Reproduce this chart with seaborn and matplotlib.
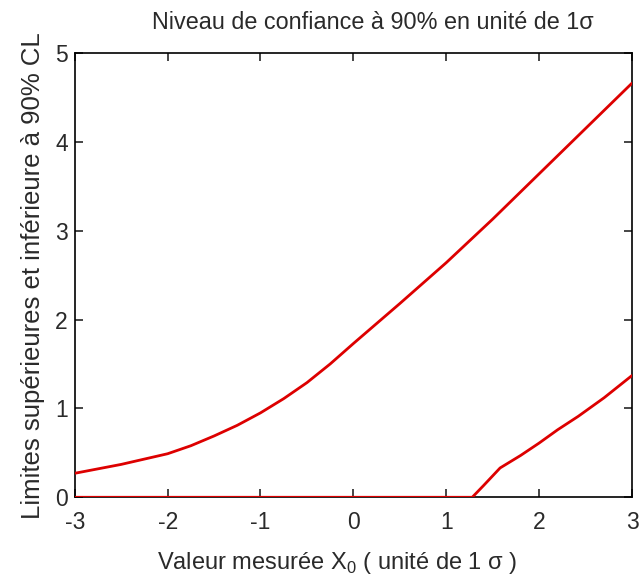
import matplotlib
matplotlib.use("Agg")
import matplotlib.pyplot as plt
import seaborn as sns
import pandas as pd

# Feldman-Cousins 90% CL belt for a Gaussian measurement (units of sigma)
x_upper = [-3.0, -2.75, -2.5, -2.25, -2.0, -1.75, -1.5, -1.25, -1.0, -0.75,
           -0.5, -0.25, 0.0, 0.5, 1.0, 1.5, 2.0, 2.5, 3.0]
upper = [0.27, 0.32, 0.37, 0.43, 0.49, 0.58, 0.69, 0.81, 0.95, 1.11,
         1.29, 1.50, 1.73, 2.18, 2.64, 3.13, 3.64, 4.15, 4.66]

x_lower = [-3.0, 1.28, 1.4, 1.58, 1.8, 2.0, 2.2, 2.42, 2.7, 3.0]
lower = [0.0, 0.0, 0.13, 0.33, 0.47, 0.61, 0.76, 0.91, 1.12, 1.37]

x_ticks = [-3, -2, -1, 0, 1, 2, 3]
y_ticks = [0, 1, 2, 3, 4, 5]

df_up = pd.DataFrame({"x": x_upper, "mu": upper})
df_lo = pd.DataFrame({"x": x_lower, "mu": lower})

sns.set_theme(style="ticks")
plt.rcParams["font.family"] = ["Liberation Sans", "DejaVu Sans"]

fig = plt.figure(figsize=(6.39, 5.86), dpi=100)
ax = fig.add_axes([0.117, 0.1514, 0.872, 0.7582])

red = "#dd0000"
sns.lineplot(data=df_lo, x="x", y="mu", ax=ax, color=red, linewidth=2.0,
             sort=True, zorder=3)
sns.lineplot(data=df_up, x="x", y="mu", ax=ax, color=red, linewidth=2.0,
             sort=True, zorder=3)

ax.set_xlim(-3, 3)
ax.set_ylim(0, 5)
ax.set_xticks(x_ticks)
ax.set_yticks(y_ticks)
txt = "#2a2a2a"
ax.set_xticklabels([str(v) for v in x_ticks], fontsize=16.5, color=txt)
ax.set_yticklabels([str(v) for v in y_ticks], fontsize=16.5, color=txt)

for side in ["top", "right", "bottom", "left"]:
    ax.spines[side].set_visible(True)
    ax.spines[side].set_color("black")
    ax.spines[side].set_linewidth(1.2)

ax.tick_params(axis="x", direction="in", length=6, width=1.2, top=True,
               pad=10)
ax.tick_params(axis="y", direction="in", length=6, width=1.2, right=True,
               pad=5)

ax.set_title("Niveau de confiance à 90% en unité de 1σ", fontsize=16.8,
             color=txt, pad=17, x=0.535)
ax.set_xlabel(r"Valeur mesurée X$_\mathregular{0}$ ( unité de 1 σ )",
              fontsize=17, color=txt, labelpad=8)
ax.xaxis.set_label_coords(0.47, -0.118)
ax.set_ylabel("Limites supérieures et inférieure à 90% CL", fontsize=18.5,
              color=txt, labelpad=7)

fig.savefig("out.png", dpi=100, facecolor="white")
